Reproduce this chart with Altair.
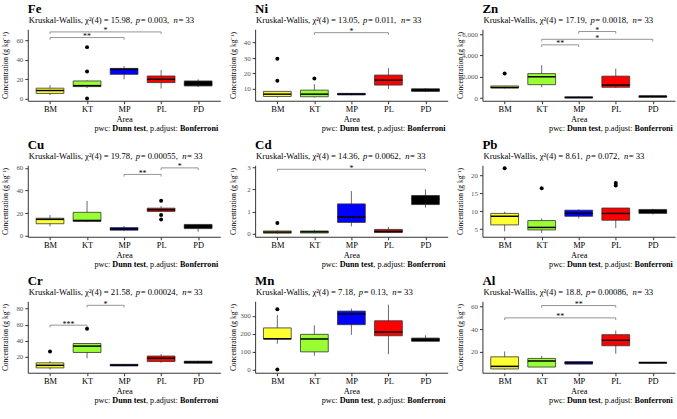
import altair as alt
import pandas as pd

AREAS = ["BM", "KT", "MP", "PL", "PD"]
FILLS = ["#FFFF33", "#99FF33", "#0000FF", "#FF0000", "#000000"]

ELEMENTS = ["Fe", "Ni", "Zn", "Cu", "Cd", "Pb", "Cr", "Mn", "Al"]
CHI2 = ["15.98", "13.05", "17.19", "19.78", "14.36", "8.61", "21.58", "7.18", "18.8"]
PVAL = ["0.003", "0.011", "0.0018", "0.00055", "0.0062", "0.072", "0.00024", "0.13", "0.00086"]

# box statistics per area (BM, KT, MP, PL, PD)
FE = {"lo": [3.8, 11, 20, 10.5, 12], "q1": [5.5, 12.5, 25.1, 16.6, 13.2],
      "med": [8.5, 13.5, 30.2, 20, 15.6], "q3": [10.9, 18.3, 31.2, 23.4, 18.3],
      "hi": [14, 19, 33.5, 29.5, 20]}
NI = {"lo": [4.4, 4.4, 5.8, 9.8, 8], "q1": [5, 4.8, 6, 12.4, 8.3],
      "med": [6.5, 6.5, 6.5, 15.6, 9], "q3": [8.3, 9.1, 7, 18.9, 10],
      "hi": [8.3, 13, 7.2, 23.4, 10.5]}
ZN = {"lo": [900, 1015, 0, 950, 60], "q1": [950, 1260, 20, 1015, 80],
      "med": [1000, 2000, 50, 1230, 150], "q3": [1140, 2300, 120, 2060, 220],
      "hi": [1150, 3080, 150, 2770, 260]}
CU = {"lo": [8.3, 12, 4, 21.5, 3.5], "q1": [10.6, 12.6, 4.9, 21.5, 6.3],
      "med": [14.5, 13.5, 6, 23, 8], "q3": [15.5, 20.7, 7.2, 24.4, 10],
      "hi": [18.4, 30.7, 8.6, 26.4, 10]}
CD = {"lo": [0.0, 0.02, 0.33, 0.03, 1.17], "q1": [0.02, 0.03, 0.505, 0.05, 1.31],
      "med": [0.07, 0.08, 0.75, 0.1, 1.56], "q3": [0.12, 0.12, 1.34, 0.19, 1.72],
      "hi": [0.15, 0.17, 1.92, 0.3, 2.0]}
PB = {"lo": [4.4, 3.9, 8.0, 5.3, 9.1], "q1": [6.2, 4.8, 8.6, 7.5, 9.4],
      "med": [8.6, 5.5, 9.4, 9.4, 9.8], "q3": [9.4, 7.4, 10.3, 10.9, 10.5],
      "hi": [9.9, 8.0, 10.5, 10.9, 10.7]}
CR = {"lo": [4.5, 18.4, 8.6, 12.8, 12], "q1": [6.5, 25.6, 8.9, 14.4, 12.3],
      "med": [9.7, 33.5, 10, 18.4, 13.5], "q3": [12.8, 36.7, 10.9, 21.2, 14.8],
      "hi": [14.8, 36.7, 11.2, 23.6, 15.2]}
MN = {"lo": [144, 77, 194, 86, 158], "q1": [171, 99, 251, 189, 158],
      "med": [172, 171, 311, 210, 165], "q3": [233, 197, 327, 273, 176],
      "hi": [305, 248, 341, 363, 192]}
AL = {"lo": [3.8, 6.1, 8.5, 18, 9.5], "q1": [4.4, 6.1, 8.7, 25.1, 9.5],
      "med": [6.7, 11.5, 10, 30, 10], "q3": [15.2, 13.8, 10.9, 35, 10.4],
      "hi": [20, 16, 11.2, 38.7, 10.5]}
STATS = [FE, NI, ZN, CU, CD, PB, CR, MN, AL]

# outliers: (area, value)
OUT_AREA = [["KT", "KT", "KT"], ["BM", "BM", "KT"], ["BM"], ["PL", "PL", "PL"], ["BM"],
            ["BM", "KT", "PL", "PL"], ["BM", "KT"], ["BM", "BM"], []]
OUT_VAL = [[53, 28, 0.3], [29.5, 15.2, 16.7], [2310], [31, 18.4, 14.3], [0.476],
           [22, 16.4, 17.2, 17.9], [26.8, 55], [337, 0], []]

# significance brackets: from, to, height, label
BR_FROM = [["BM", "BM"], ["KT"], ["KT", "KT", "MP"], ["MP", "PL"], ["BM"], [], ["BM", "KT"], [], ["BM", "KT"]]
BR_TO = [["MP", "PL"], ["PL"], ["MP", "PD", "PL"], ["PL", "PD"], ["PD"], [], ["KT", "MP"], [], ["PL", "PL"]]
BR_Y = [[62.8, 68.6], [46.5], [5000, 5520, 6250], [54.2, 60], [2.9], [], [59.4, 84], [], [50, 61]]
BR_LAB = [["**", "*"], ["*"], ["**", "*", "*"], ["**", "*"], ["*"], [], ["***", "*"], [], ["**", "**"]]

Y_DOMAIN = [[-2, 71.3], [2.2, 48.7], [-250, 6460], [-0.9, 62.3], [-0.14, 3.08],
            [2.9, 22.8], [0.5, 89], [-18, 382], [1, 64.8]]
Y_TICKS = [[0, 20, 40, 60], [10, 20, 30, 40], [0, 2000, 4000, 6000], [0, 20, 40, 60],
           [0, 1, 2, 3], [5, 10, 15, 20], [20, 40, 60, 80], [0, 100, 200, 300], [20, 40, 60]]

FONT = "Liberation Serif"
W, H = 194, 72

# Times-compatible advance widths (1/1000 em) used to chain mixed-style text pieces
NORMAL_W = {"p": 500, "w": 722, "c": 444, ":": 278, " ": 250, ",": 250, ".": 250,
            "a": 444, "d": 500, "j": 278, "u": 500, "s": 389, "t": 278, "K": 722,
            "r": 333, "k": 500, "l": 278, "-": 333, "W": 944, "i": 278, "\u03c7": 500,
            "\u00b2": 300, "(": 333, ")": 333, "=": 564}
ITALIC_W = {"p": 560, "n": 560}
BOLD_W = {"D": 722, "u": 556, "n": 556, " ": 250, "t": 333, "e": 444, "s": 389, ",": 250,
          "B": 667, "o": 500, "f": 333, "r": 444, "i": 278}
TABLES = {"normal": NORMAL_W, "italic": ITALIC_W, "bold": BOLD_W}
CAP_PIECES = [("pwc: ", "normal"), ("Dunn test", "bold"), (", p.adjust: ", "normal"),
              ("Bonferroni", "bold")]
CAP_SIZE = 8.2
SUB_SIZE = 8.7


def text_w(s, style, size):
    tab = TABLES[style]
    return sum(tab.get(ch, 500) for ch in s) / 1000 * size


def chained_text(pieces, size, x0, y, align_right=False):
    widths = [text_w(s, st, size) for s, st in pieces]
    x = x0 - sum(widths) if align_right else x0
    out = []
    for (s, st), w in zip(pieces, widths):
        out.append(alt.Chart(pd.DataFrame({"t": [s]})).mark_text(
            font=FONT, fontSize=size,
            fontWeight="bold" if st == "bold" else "normal",
            fontStyle="italic" if st == "italic" else "normal",
            align="left", baseline="middle", color="black"
        ).encode(text="t:N", x=alt.value(x), y=alt.value(y)))
        x += w
    return out


def panel(k):
    st = STATS[k]
    box = pd.DataFrame({"area": AREAS, "i": [1, 2, 3, 4, 5], **st})
    xs = alt.Scale(domain=[0.4, 5.6], nice=False, zero=False)
    ys = alt.Scale(domain=Y_DOMAIN[k], nice=False, zero=False)
    xaxis = alt.Axis(values=[1, 2, 3, 4, 5], title="Area", grid=False,
                     labelFont=FONT, titleFont=FONT,
                     labelExpr="['BM','KT','MP','PL','PD'][datum.value-1]")
    yaxis = alt.Axis(values=Y_TICKS[k], title="Concentration (g kg\u207b\u00b9)", grid=False,
                     labelFont=FONT, titleFont=FONT)

    whisk = alt.Chart(box).mark_rule(color="#444", strokeWidth=0.8).encode(
        x=alt.X("i:Q", scale=xs, axis=xaxis),
        y=alt.Y("lo:Q", scale=ys, axis=yaxis), y2="hi:Q")
    boxes = alt.Chart(box).transform_calculate(
        a="datum.i - 0.375", b="datum.i + 0.375"
    ).mark_bar(stroke="#333", strokeWidth=0.8).encode(
        x=alt.X("a:Q", scale=xs, axis=xaxis), x2="b:Q",
        y=alt.Y("q1:Q", scale=ys, axis=yaxis), y2="q3:Q",
        fill=alt.Fill("area:N", scale=alt.Scale(domain=AREAS, range=FILLS), legend=None))
    med = alt.Chart(box).transform_calculate(
        a="datum.i - 0.375", b="datum.i + 0.375"
    ).mark_rule(color="black", strokeWidth=1.5).encode(
        x=alt.X("a:Q", scale=xs, axis=xaxis), x2="b:Q",
        y=alt.Y("med:Q", scale=ys, axis=yaxis))
    layers = [whisk, boxes, med]

    if OUT_VAL[k]:
        out = pd.DataFrame({"i": [AREAS.index(a) + 1 for a in OUT_AREA[k]], "v": OUT_VAL[k]})
        layers.append(alt.Chart(out).mark_circle(color="black", opacity=1, size=16).encode(
            x=alt.X("i:Q", scale=xs, axis=xaxis), y=alt.Y("v:Q", scale=ys, axis=yaxis)))

    if BR_Y[k]:
        tip = 0.03 * (Y_DOMAIN[k][1] - Y_DOMAIN[k][0])
        i1 = [AREAS.index(a) + 1 for a in BR_FROM[k]]
        i2 = [AREAS.index(a) + 1 for a in BR_TO[k]]
        br = pd.DataFrame({"x1": i1, "x2": i2, "y": BR_Y[k], "lab": BR_LAB[k]})
        base = alt.Chart(br).transform_calculate(yt=f"datum.y - {tip}", xm="(datum.x1 + datum.x2) / 2")
        bc = "#7a7a7a"
        layers.append(base.mark_rule(color=bc, strokeWidth=0.8).encode(
            x=alt.X("x1:Q", scale=xs, axis=xaxis), x2="x2:Q", y=alt.Y("y:Q", scale=ys, axis=yaxis)))
        layers.append(base.mark_rule(color=bc, strokeWidth=0.8).encode(
            x=alt.X("x1:Q", scale=xs, axis=xaxis), y=alt.Y("y:Q", scale=ys, axis=yaxis), y2="yt:Q"))
        layers.append(base.mark_rule(color=bc, strokeWidth=0.8).encode(
            x=alt.X("x2:Q", scale=xs, axis=xaxis), y=alt.Y("y:Q", scale=ys, axis=yaxis), y2="yt:Q"))
        layers.append(base.mark_text(font=FONT, fontSize=8, baseline="alphabetic", dy=1.5, color="black").encode(
            x=alt.X("xm:Q", scale=xs, axis=xaxis), y=alt.Y("y:Q", scale=ys, axis=yaxis), text="lab:N"))

    # caption (bottom right)
    layers += chained_text(CAP_PIECES, CAP_SIZE, W - 2, H + 28, align_right=True)

    # title and subtitle (top left, aligned with the panel)
    layers.append(alt.Chart(pd.DataFrame({"t": [ELEMENTS[k]]})).mark_text(
        font=FONT, fontSize=13, fontWeight="bold", align="left", baseline="middle", color="black"
    ).encode(text="t:N", x=alt.value(0), y=alt.value(-20.5)))
    sub = [(f"Kruskal-Wallis, \u03c7\u00b2(4) = {CHI2[k]}, ", "normal"), ("p", "italic"),
           (f" = {PVAL[k]}, ", "normal"), ("n", "italic"), (" = 33", "normal")]
    layers += chained_text(sub, SUB_SIZE, 1, -9)

    return alt.layer(*layers).properties(width=W, height=H)


chart = alt.concat(*[panel(k) for k in range(9)], columns=3,
                   spacing={"row": 6, "column": 8}).properties(
    padding={"left": 1, "top": 1, "right": 2, "bottom": 1}
).configure(font=FONT).configure_view(stroke=None).configure_axis(
    domainColor="#333", tickColor="#333", labelFont=FONT, titleFont=FONT,
    titleFontWeight="normal", titleColor="black", grid=False
).configure_axisX(
    labelFontSize=8.5, labelColor="black", titleFontSize=8.5, tickSize=3,
    labelPadding=1, titlePadding=1, labelAngle=0
).configure_axisY(
    labelFontSize=7, labelColor="#555", titleFontSize=7.5, tickSize=3,
    labelPadding=2, titlePadding=2, minExtent=16, maxExtent=16
)

chart.save("out.html", embed_options={"renderer": "svg", "actions": False})
